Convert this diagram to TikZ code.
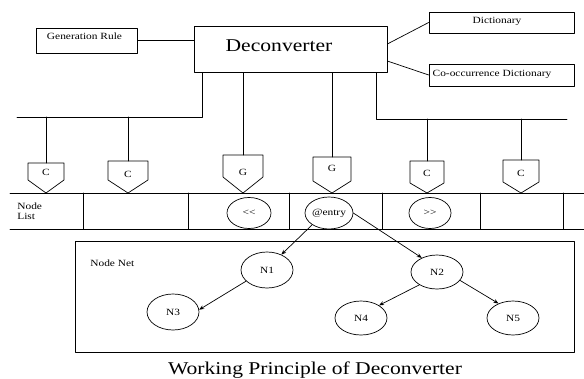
\documentclass[tikz,border=0pt]{standalone}
\usepackage{fontspec}
\setmainfont{Liberation Serif}[FakeStretch=1.2]
\usetikzlibrary{arrows.meta,shapes.geometric}

\tikzset{
  box/.style={draw,inner sep=0pt},
  lbl/.style={font=\fontsize{9.5}{10.5}\selectfont,inner sep=0pt},
  elem/.style={draw,ellipse,inner sep=0pt,font=\fontsize{9.5}{10.5}\selectfont},
  arr/.style={-{Stealth[length=5pt,width=4pt]}}
}

\begin{document}
\begin{tikzpicture}[x=1pt,y=-1pt,line width=0.7pt,line cap=round,line join=round]
  \useasboundingbox (0,0) rectangle (584,378);
  % upper boxes
  \node[box,minimum width=193pt,minimum height=46pt] (deconv) at (290.5,49) {};
  \node[anchor=base,inner sep=0pt,font=\fontsize{18}{20}\selectfont] (deconvt) at (279,51) {Deconverter};
  \node[box,minimum width=101pt,minimum height=25pt] (genrule) at (86.5,40.5) {};
  \node[lbl,anchor=base] (genrulet) at (84.5,39) {Generation Rule};
  \node[box,minimum width=145pt,minimum height=21pt] (dict) at (501.5,22.5) {};
  \node[lbl,anchor=base] (dictt) at (497,23.3) {Dictionary};
  \node[box,minimum width=145pt,minimum height=22pt] (coocc) at (501.5,75) {};
  \node[lbl,anchor=base] (cooct) at (492,76.7) {Co-occurrence Dictionary};
  \draw (genrule.east) -- (genrule.east -| deconv.west);
  \draw ([yshift=5pt]deconv.east) -- (dict.west);
  \draw ([yshift=-12pt]deconv.east) -- (coocc.west);
  % C and G pentagons
  \foreach \n/\x/\w/\t/\s/\ly/\l in {c1/46/18/163/180/172/C, c2/128/20/161/180/174/C,
      g1/243/20/155/177/172/G, g2/332/19/157/181/168/G,
      c3/427/17/161/183/173/C, c4/521/18/160/182/173/C}{
    \draw (\x-\w,\t) -- (\x+\w,\t) -- (\x+\w,\s) -- (\x,193) -- (\x-\w,\s) -- cycle;
    \coordinate (\n) at (\x,\t);
    \node[lbl] (\n l) at (\x,\ly) {\l};
  }
  % buses
  \coordinate (lbus) at (202,117);
  \coordinate (lbusend) at (17,117);
  \coordinate (rbus) at (376,119);
  \coordinate (rbusend) at (567,119);
  \draw (deconv.south -| lbus) -- (lbus) -- (lbusend);
  \draw (deconv.south -| rbus) -- (rbus) -- (rbusend);
  \draw (c1 |- lbus) -- (c1);
  \draw (c2 |- lbus) -- (c2);
  \draw (c3 |- rbus) -- (c3);
  \draw (c4 |- rbus) -- (c4);
  \draw (deconv.south -| g1) -- (g1);
  \draw (deconv.south -| g2) -- (g2);
  % node list
  \draw (10,193) -- (584,193);
  \draw (10,229) -- (584,229);
  \foreach \x in {83,188,289,382,480,563}
    \draw (\x,193) -- (\x,229);
  \node[lbl,align=left,anchor=west] (nlist) at (17,211) {Node\\List};
  \node[elem,minimum width=44pt,minimum height=31pt] (lt) at (249,213) {<{}<};
  \node[elem,minimum width=42pt,minimum height=32pt] (entry) at (329,213) {@entry};
  \node[elem,minimum width=42pt,minimum height=31pt] (gt) at (430,213) {>{}>};
  % node net
  \node[box,minimum width=499pt,minimum height=111pt] (net) at (324.5,296.5) {};
  \node[lbl,anchor=base west] (nett) at (90,266) {Node Net};
  \node[elem,minimum width=52pt,minimum height=36pt] (n1) at (267,270) {N1};
  \node[elem,minimum width=52pt,minimum height=36pt] (n3) at (173,312) {N3};
  \node[elem,minimum width=52pt,minimum height=34pt] (n2) at (437,272) {N2};
  \node[elem,minimum width=52pt,minimum height=34pt] (n4) at (361,318) {N4};
  \node[elem,minimum width=52pt,minimum height=34pt] (n5) at (513,318) {N5};
  \draw[arr] (entry.215) -- (n1.47);
  \draw[arr] (entry.east) -- (n2.137);
  \draw[arr] (n1.208) -- (n3.5);
  \draw[arr] (n2.216) -- (n4.35);
  \draw[arr] (n2.340) -- (n5.135);
  % caption
  \node[anchor=base,inner sep=0pt,font=\fontsize{18}{20}\selectfont] (caption) at (315,374) {Working Principle of Deconverter};
\end{tikzpicture}
\end{document}
